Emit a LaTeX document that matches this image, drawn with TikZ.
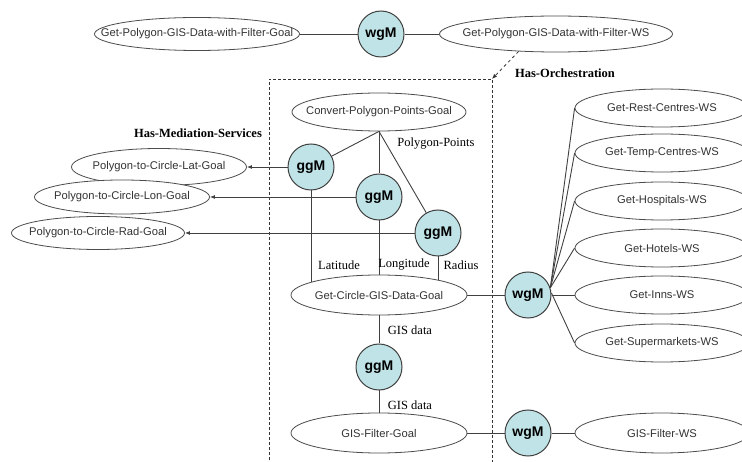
\documentclass[tikz,border=0pt]{standalone}
\usepackage{fontspec}
\setmainfont{Liberation Serif}
\setsansfont{Liberation Sans}
\usetikzlibrary{arrows.meta, positioning, shapes.geometric, backgrounds}
\definecolor{medcyan}{HTML}{BFE3E6}

\begin{document}
\begin{tikzpicture}[
  x=1pt, y=-1pt,
  every node/.style={font=\sffamily\fontsize{11.2}{13}\selectfont},
  goal/.style={ellipse, draw=black!70, line width=0.8pt, fill=white,
    inner ysep=0pt, inner xsep=-45pt, text=black!80, minimum height=38pt},
  med/.style={circle, draw=black!75, line width=1pt, fill=medcyan,
    minimum size=46pt, inner sep=0pt,
    font=\sffamily\bfseries\fontsize{14}{16}\selectfont},
  lbl/.style={font=\rmfamily\fontsize{12.5}{14}\selectfont},
  hdr/.style={font=\rmfamily\bfseries\fontsize{12.5}{14}\selectfont},
  link/.style={draw=black!75, line width=0.9pt},
  arr/.style={link, -{Latex[length=5pt, width=4pt]}},
  boxline/.style={draw=black!80, line width=0.8pt, dash pattern=on 3pt off 2pt},
]
  \useasboundingbox (0,0) rectangle (742,462);
  \clip (0,0) rectangle (742,462);

  % top row
  \node[goal, minimum width=205pt, minimum height=33pt] (pgoal) at (197,34)
       {Get-Polygon-GIS-Data-with-Filter-Goal};
  \node[med] (wgm1) at (381,34) {wgM};
  \node[goal, minimum width=233pt, minimum height=36pt] (pws) at (556,34)
       {Get-Polygon-GIS-Data-with-Filter-WS};

  % orchestration box
  \coordinate (orch) at (492,79);
  \coordinate (boxbl) at (269,475);
  \draw[boxline] (boxbl) rectangle (orch);
  \draw[boxline, dash pattern=on 3pt off 3pt, -{Latex[length=5pt, width=4pt]}]
       (pws.205) -- (orch);
  \node[hdr] at (565,73) {Has-Orchestration};
  \node[hdr] at (198,133) {Has-Mediation-Services};

  % mediation goals
  \node[goal, minimum width=174pt] (convert) at (379,112)
       {Convert-Polygon-Points-Goal};
  \node[med] (ggm1) at (311,167) {ggM};
  \node[med] (ggm2) at (379,197) {ggM};
  \node[med] (ggm3) at (438,233) {ggM};
  \node[goal, minimum width=175pt, minimum height=37pt] (lat) at (159,167)
       {Polygon-to-Circle-Lat-Goal};
  \node[goal, minimum width=175pt, minimum height=34pt] (lon) at (122,197)
       {Polygon-to-Circle-Lon-Goal};
  \node[goal, minimum width=173pt, minimum height=33pt] (rad) at (98,233)
       {Polygon-to-Circle-Rad-Goal};
  \node[goal, minimum width=176pt, minimum height=40pt] (circ) at (379,295)
       {Get-Circle-GIS-Data-Goal};
  \node[med] (wgm2) at (528,295) {wgM};

  % web services
  \foreach \nm/\yy/\txt in {rest/108/Get-Rest-Centres-WS,
      temp/153/Get-Temp-Centres-WS, hosp/201/Get-Hospitals-WS,
      hotel/248/Get-Hotels-WS, inns/295/Get-Inns-WS,
      super/343/Get-Supermarkets-WS}
    \node[goal, minimum width=174pt] (\nm) at (662,\yy) {\txt};

  \node[med] (ggm4) at (379,367) {ggM};
  \node[goal, minimum width=176pt, minimum height=40pt] (filter) at (379,433)
       {GIS-Filter-Goal};
  \node[med] (wgm3) at (528,433) {wgM};
  \node[goal, minimum width=174pt, minimum height=40pt] (filterws) at (662,433)
       {GIS-Filter-WS};

  % labels
  \node[lbl] at (436,144) {Polygon-Points};
  \node[lbl] at (339,265) {Latitude};
  \node[lbl] at (404,265) {Longitude};
  \node[lbl] at (461,265) {Radius};
  \node[lbl] at (410,330) {GIS data};
  \node[lbl] at (410,405) {GIS data};

  \begin{scope}[on background layer]
    \draw[link] (pgoal) -- (wgm1) -- (pws);
    \foreach \g in {ggm1, ggm2, ggm3}
      \draw[link] (convert.south) -- (\g);
    \draw[link] (ggm1) -- (ggm1 |- circ.center);
    \draw[link] (ggm2) -- (circ);
    \draw[link] (ggm3) -- (ggm3 |- circ.center);
    \draw[link] (circ) -- (wgm2);
    \foreach \w in {rest, temp, hosp, hotel}
      \draw[link] (wgm2.18) -- (\w.west);
    \draw[link] (wgm2.east) -- (inns.west);
    \draw[link] (wgm2.5) -- (super.west);
    \draw[link] (circ) -- (ggm4) -- (filter);
    \draw[link] (filter) -- (wgm3) -- (filterws);
  \end{scope}

  \draw[arr] (ggm1) -- (lat);
  \draw[arr] (ggm2) -- (lon);
  \draw[arr] (ggm3) -- (rad);
\end{tikzpicture}
\end{document}
